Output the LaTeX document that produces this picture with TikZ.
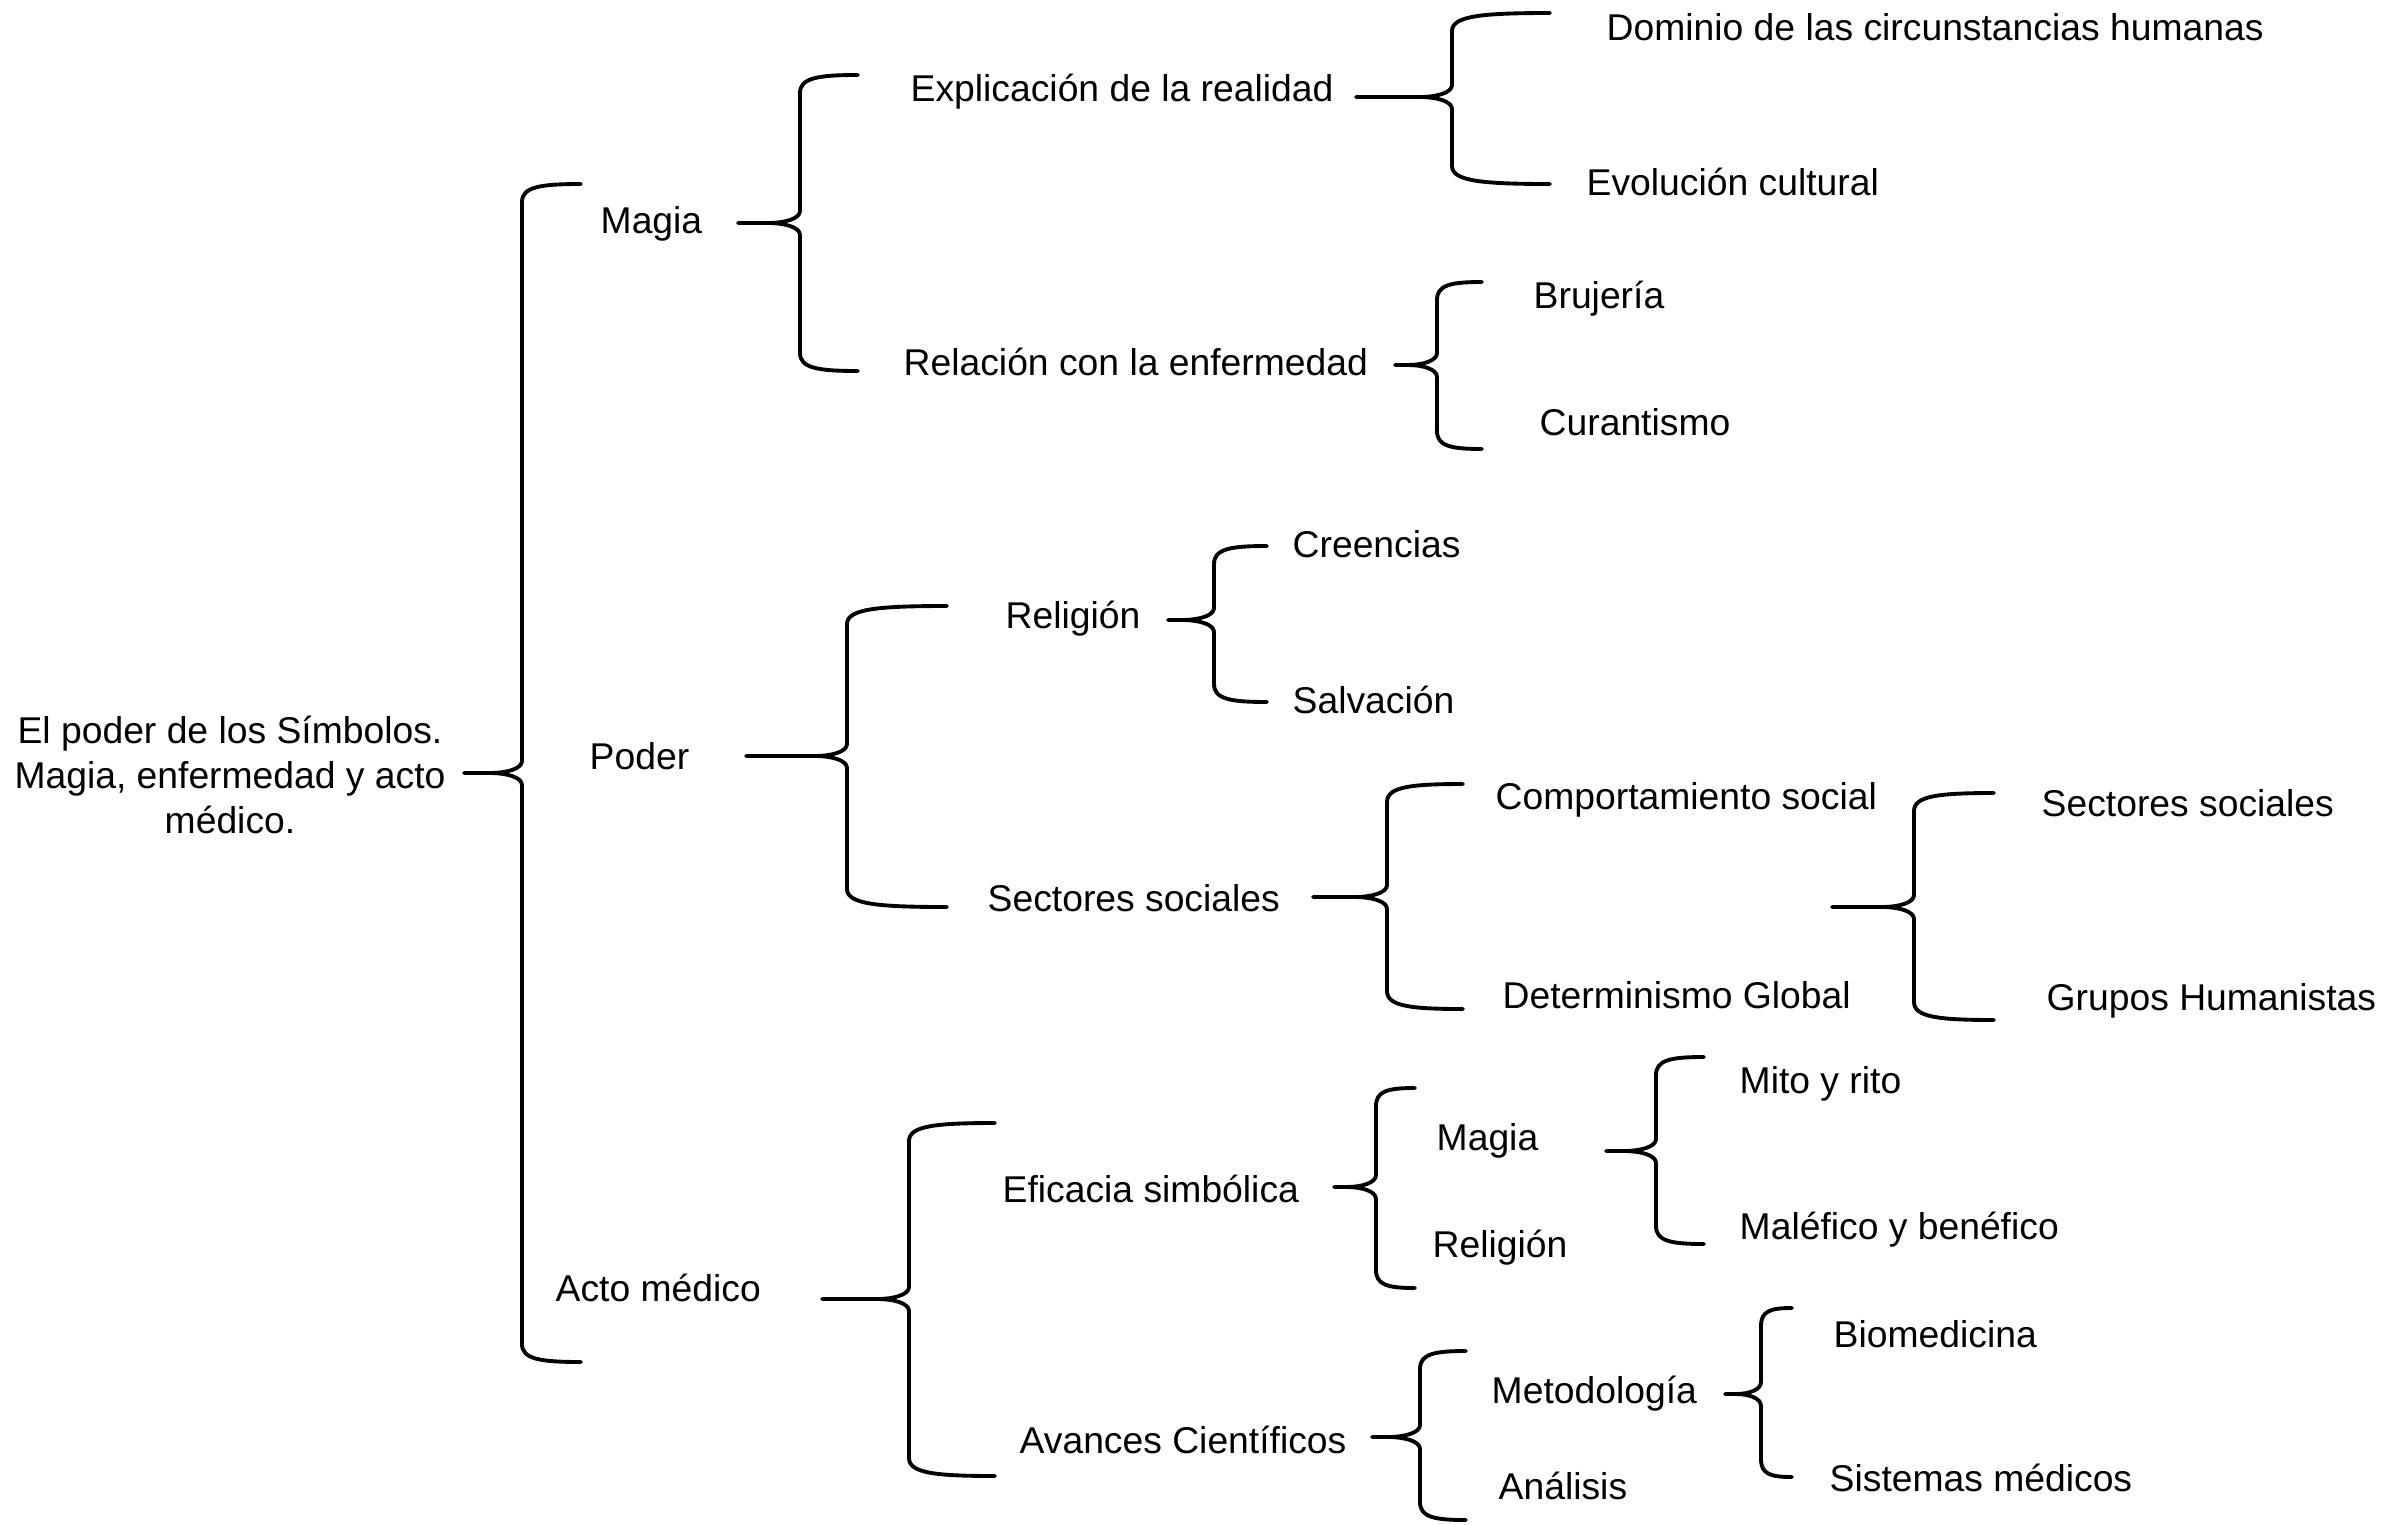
\documentclass[tikz,border=0pt]{standalone}
\usepackage{fontspec}
\setmainfont{Liberation Sans}
\tikzset{
	concept/.style={inner sep=0pt, anchor=base west, font=\fontsize{10.6}{12.8}\selectfont},
	bracket/.style={line width=1.1pt, line join=round, line cap=round}
}
% stub x, vertical x, top, mid, bottom, arm end
\newcommand{\cbrace}[6]{%
	\pgfmathsetmacro\cuspx{#2-min(32,0.7*(#2-#1))}
	\pgfmathsetmacro\armx{#2+0.3*(#6-#2)}
	\draw[bracket] (#6,#3) .. controls (\armx,#3) and (#2,{#3+3}) .. (#2,{#3+18})
		-- (#2,{#4-12}) .. controls (#2,{#4-4}) and ({\cuspx+0.5*(#2-\cuspx)},#4) .. (\cuspx,#4)
		-- (#1,#4);
	\draw[bracket] (\cuspx,#4) .. controls ({\cuspx+0.5*(#2-\cuspx)},#4) and (#2,{#4+4}) .. (#2,{#4+12})
		-- (#2,{#5-18}) .. controls (#2,{#5-3}) and (\armx,#5) .. (#6,#5);
}
\begin{document}
\begin{tikzpicture}[x=0.01cm, y=-0.01cm]
	\useasboundingbox (0,0) rectangle (2397,1524);
	\node[concept, anchor=center, align=center] (simbolos) at (230,775) {El poder de los Símbolos.\\Magia, enfermedad y acto\\médico.};
	% first level
	\node[concept] (magia) at (600,233) {Magia};
	\node[concept] (poder) at (589,769) {Poder};
	\node[concept] (acto) at (555,1301) {Acto médico};
	% magia
	\node[concept] (explicacion) at (910,101) {Explicación de la realidad};
	\node[concept] (relacion) at (903,375) {Relación con la enfermedad};
	\node[concept] (dominio) at (1606,41) {Dominio de las circunstancias humanas};
	\node[concept] (evolucion) at (1586,195) {Evolución cultural};
	\node[concept] (brujeria) at (1533,308) {Brujería};
	\node[concept] (curantismo) at (1539,435) {Curantismo};
	% poder
	\node[concept] (religion) at (1005,628) {Religión};
	\node[concept] (sectores) at (987,911) {Sectores sociales};
	\node[concept] (creencias) at (1292,557) {Creencias};
	\node[concept] (salvacion) at (1292,713) {Salvación};
	\node[concept] (comportamiento) at (1495,809) {Comportamiento social};
	\node[concept] (determinismo) at (1502,1008) {Determinismo Global};
	\node[concept] (sectoresb) at (2041,816) {Sectores sociales};
	\node[concept] (grupos) at (2046,1010) {Grupos Humanistas};
	% acto medico
	\node[concept] (eficacia) at (1002,1202) {Eficacia simbólica};
	\node[concept] (avances) at (1019,1453) {Avances Científicos};
	\node[concept] (magiab) at (1436,1150) {Magia};
	\node[concept] (religionb) at (1432,1257) {Religión};
	\node[concept] (mito) at (1739,1093) {Mito y rito};
	\node[concept] (malefico) at (1739,1239) {Maléfico y benéfico};
	\node[concept] (metodologia) at (1491,1403) {Metodología};
	\node[concept] (analisis) at (1498,1499) {Análisis};
	\node[concept] (biomedicina) at (1833,1347) {Biomedicina};
	\node[concept] (sistemas) at (1829,1491) {Sistemas médicos};
	% braces
	\cbrace{464}{522}{184}{773}{1362}{581}
	\cbrace{738}{800}{75}{223}{371}{858}
	\cbrace{1356}{1452}{13}{97}{184}{1550}
	\cbrace{1395}{1437}{282}{365}{449}{1482}
	\cbrace{746}{847}{606}{756}{907}{947}
	\cbrace{1168}{1214}{546}{620}{702}{1267}
	\cbrace{1313}{1387}{784}{897}{1009}{1463}
	\cbrace{1832}{1914}{793}{907}{1020}{1994}
	\cbrace{822}{909}{1123}{1299}{1476}{995}
	\cbrace{1334}{1376}{1088}{1187}{1288}{1415}
	\cbrace{1606}{1656}{1057}{1151}{1244}{1704}
	\cbrace{1372}{1420}{1351}{1437}{1520}{1466}
	\cbrace{1725}{1761}{1308}{1394}{1477}{1792}
\end{tikzpicture}
\end{document}
